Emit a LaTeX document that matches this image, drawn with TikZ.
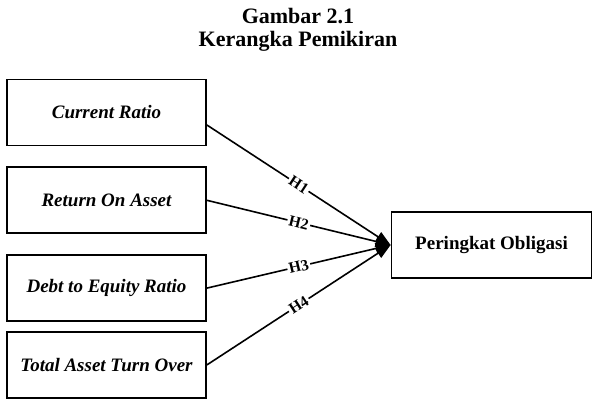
\documentclass[tikz,border=0pt]{standalone}
\usepackage{fontspec}
\setmainfont{Liberation Serif}
\usetikzlibrary{positioning,arrows.meta}
\begin{document}
\begin{tikzpicture}[x=0.5pt,y=-0.5pt]
    \tikzstyle{var}=[rectangle,draw=black,line width=0.9pt,minimum width=99.5pt,minimum height=33pt,font=\fontsize{9.5}{11}\selectfont\bfseries\itshape]
    \tikzstyle{dep}=[rectangle,draw=black,line width=0.9pt,minimum width=100pt,minimum height=33pt,font=\fontsize{9.5}{11}\selectfont\bfseries]
    \tikzstyle{hyp}=[midway,sloped,fill=white,inner sep=0.8pt,font=\fontsize{7.8}{9}\selectfont\bfseries]
    \tikzstyle{head}=[font=\fontsize{11}{13}\selectfont\bfseries,anchor=base]

    \useasboundingbox (0,0) rectangle (603,412);

    \node[head](title) at (298,23.3){Gambar 2.1};
    \node[head](subtitle) at (298,46.3){Kerangka Pemikiran};

    \node[var](var1) at (106.5,112.5){Current Ratio};
    \node[var,below=10pt of var1](var2){Return On Asset};
    \node[var,below=10pt of var2](var3){Debt to Equity Ratio};
    \node[var,below=4.5pt of var3](var4){Total Asset Turn Over};
    \node[dep](rating) at (491.5,245){Peringkat Obligasi};

    \path[line width=0.8pt,-{Triangle[length=7.5pt,width=5.5pt]}]
      ([yshift=-6.25pt]var1.east) edge node[hyp]{H1} (rating.west)
      (var2.east) edge node[hyp]{H2} (rating.west)
      (var3.east) edge node[hyp]{H3} (rating.west)
      (var4.east) edge node[hyp]{H4} (rating.west);
\end{tikzpicture}
\end{document}
